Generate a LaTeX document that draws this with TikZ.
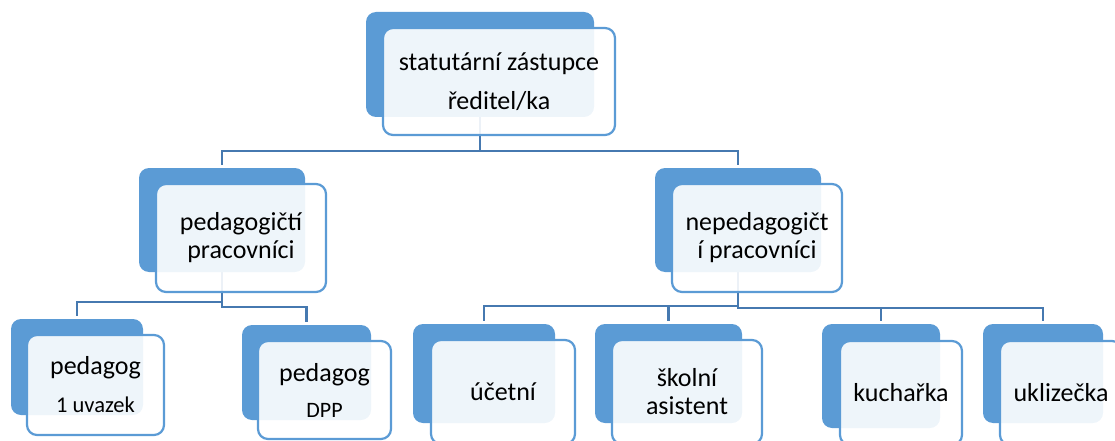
\documentclass[tikz,border=0pt]{standalone}
\usepackage{fontspec}
\setmainfont{Carlito}
\usepackage{xcolor}
\usepackage{tikz}
\usetikzlibrary{backgrounds}

\definecolor{boxblue}{HTML}{5B9BD5}
\definecolor{linkblue}{HTML}{4679B0}

\tikzset{
	backbox/.style={rectangle, rounded corners=10pt, fill=boxblue, draw=none, inner sep=0pt},
	frontbox/.style={rectangle, rounded corners=10pt, draw=boxblue, line width=2.2pt, fill=white, fill opacity=0.9, text opacity=1, align=center, inner sep=0pt, font=\fontsize{26}{28}\selectfont},
	link/.style={draw=linkblue, line width=2.4pt},
}

\begin{document}
\begin{tikzpicture}[x=1pt, y=-1pt]
	\useasboundingbox (0,0) rectangle (1115,441);
	\clip (0,0) rectangle (1115,441);
	% top level
	\node[backbox, minimum width=228pt, minimum height=105pt] (statB) at (480,64.5) {};
	\node[frontbox, minimum width=232pt, minimum height=107pt] (stat) at (499,81.5) {statutární zástupce\\[11pt]ředitel/ka};
	% second level
	\node[backbox, minimum width=166pt, minimum height=104pt] (pedB) at (222,220) {};
	\node[frontbox, minimum width=170pt, minimum height=108pt] (ped) at (241,238) {pedagogičtí\\pracovníci};
	\node[backbox, minimum width=166pt, minimum height=104pt] (npedB) at (738,220) {};
	\node[frontbox, minimum width=170pt, minimum height=108pt] (nped) at (757,238) {nepedagogičt\\í pracovníci};
	% third level
	\node[backbox, minimum width=132pt, minimum height=96pt] (uvB) at (77,367) {};
	\node[frontbox, minimum width=137pt, minimum height=100pt] (uv) at (95.5,385) {pedagog\\[10pt]{\fontsize{22.5}{28}\selectfont 1 uvazek}};
	\node[backbox, minimum width=129pt, minimum height=95pt] (dppB) at (306.5,372.5) {};
	\node[frontbox, minimum width=133pt, minimum height=98pt] (dpp) at (324.5,390) {pedagog\\[8pt]{\fontsize{22}{28}\selectfont DPP}};
	\node[backbox, minimum width=142pt, minimum height=99pt] (ucB) at (484,373.5) {};
	\node[frontbox, minimum width=144pt, minimum height=104pt] (uc) at (503,392) {účetní};
	\node[backbox, minimum width=147pt, minimum height=99pt] (skB) at (668.5,373.5) {};
	\node[frontbox, minimum width=150pt, minimum height=104pt] (sk) at (687,392) {školní\\asistent};
	\node[backbox, minimum width=118pt, minimum height=104pt] (kuB) at (881,376) {};
	\node[frontbox, minimum width=122pt, minimum height=104pt] (ku) at (901,393) {kuchařka};
	\node[backbox, minimum width=120pt, minimum height=99pt] (ukB) at (1043,373.5) {};
	\node[frontbox, minimum width=122pt, minimum height=104pt] (uk) at (1061,393) {uklizečka};
	% connectors behind the boxes
	\begin{scope}[on background layer]
		\draw[link] (statB.south) -- ++(0,34) -| ([yshift=3pt]pedB.north);
		\draw[link] (statB.south) -- ++(0,34) -| ([yshift=3pt]npedB.north);
		\draw[link] (pedB.south) -- ++(0,30) -| ([yshift=3pt]uvB.north);
		\draw[link] (pedB.south) -- ++(0,35) -| ([yshift=3pt]dppB.north);
		\draw[link] (npedB.south) -- ++(0,34) -| ([yshift=3pt]ucB.north);
		\draw[link] (npedB.south) -- ++(0,34) -| ([yshift=3pt]skB.north);
		\draw[link] (npedB.south) -- ++(0,36) -| ([yshift=3pt]kuB.north);
		\draw[link] (npedB.south) -- ++(0,36) -| ([yshift=3pt]ukB.north);
	\end{scope}
\end{tikzpicture}
\end{document}
